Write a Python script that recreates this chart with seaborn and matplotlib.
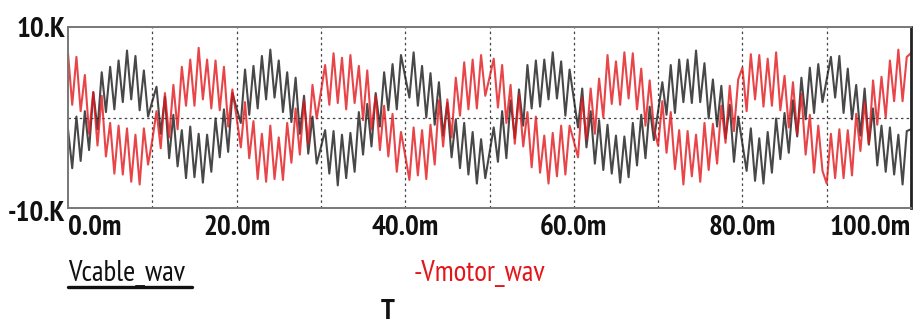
import numpy as np
import pandas as pd
import matplotlib
matplotlib.use("Agg")
import matplotlib.pyplot as plt
from matplotlib.lines import Line2D
import matplotlib.transforms as mtransforms
import seaborn as sns

# time axis in ms (sample step 0.5 ms)
t_ms = np.arange(0, 100.5, 0.5)

# Vcable_wav (black), kV
vcable = [
    -1.3, -5.6, 0.1, -4.8, 0.7, -3.6, 2.8, -1.3, 5.0, 0.6,
    5.6, 0.9, 6.3, 1.7, 7.4, 2.0, 6.8, 0.8, 5.2, 0.1,
    1.8, 3.4, -1.8, 2.3, -4.5, 0.3, -5.4, -1.4, -6.7, -1.0,
    -6.6, -1.8, -7.2, -1.9, -6.0, -0.1, -4.4, 0.9, -3.8, 2.7,
    1.0, -0.6, 5.3, 0.3, 5.7, 1.0, 6.8, 2.0, 7.5, 2.2,
    6.3, 0.6, 5.0, -0.5, 4.4, -1.8, 2.4, -4.0, 0.1, -5.1,
    -3.3, -1.4, -6.2, -1.5, -7.5, -1.9, -6.7, -1.7, -6.0, 0.6,
    -4.1, 1.5, -3.2, 2.7, -1.0, 5.0, 0.8, 5.9, 0.9, 6.9,
    4.5, 2.2, 7.2, 1.3, 5.7, 0.0, 4.9, -0.8, 3.9, -2.0,
    1.6, -4.4, -0.2, -5.6, -0.6, -6.3, -1.6, -7.3, -2.4, -6.7,
    -3.9, -1.1, -4.9, 0.7, -4.5, 1.9, -2.3, 3.1, -0.9, 5.8,
    1.0, 6.3, 1.2, 6.4, 2.0, 7.2, 2.1, 6.2, 0.2, 5.3,
    2.1, -1.1, 3.2, -3.3, 0.7, -5.1, -0.3, -5.8, -0.8, -6.2,
    -2.0, -7.2, -2.1, -6.6, -0.6, -5.3, 0.3, -4.5, 1.2, -2.5,
    0.7, 3.9, 0.3, 5.8, 0.5, 6.4, 1.7, 6.4, 1.6, 7.4,
    1.7, 6.0, -0.1, 4.2, -1.0, 3.5, -2.3, 1.4, -4.9, 0.1,
    -2.9, -5.9, -1.2, -7.0, -2.3, -7.3, -1.6, -6.1, -0.1, -4.6,
    0.5, -3.9, 1.9, -2.1, 4.4, -0.2, 5.5, 0.5, 5.9, 1.7,
    4.2, 6.7, 2.2, 6.8, 0.5, 5.4, -0.2, 3.6, -2.0, 3.2,
    -3.0, 1.0, -5.3, -0.9, -6.0, -1.1, -6.3, -1.9, -7.4, -1.5,
    -1.3,
]

# -Vmotor_wav (red), kV
vmotor_neg = [
    7.1, 1.4, 6.7, 0.7, 4.7, -1.8, 2.8, -3.1, 2.4, -4.3,
    -0.6, -6.2, -0.9, -6.3, -1.2, -7.1, -1.9, -7.4, -1.2, -5.2,
    -2.5, 0.7, -3.4, 2.7, -2.2, 3.6, -1.3, 5.6, 1.3, 6.4,
    1.3, 7.7, 2.0, 6.4, 1.0, 6.3, 0.8, 5.6, -1.0, 3.1,
    0.0, -3.3, 1.7, -4.5, -0.4, -6.8, -1.8, -7.1, -0.9, -6.8,
    -2.2, -6.9, -0.6, -5.0, 1.0, -4.1, 1.9, -3.0, 3.6, -0.1,
    2.8, 5.8, 1.4, 7.1, 1.6, 6.6, 0.9, 6.9, 1.6, 5.7,
    -0.3, 5.2, -1.3, 2.4, -3.6, 1.3, -4.3, 0.4, -6.0, -1.6,
    -4.2, -6.9, -1.1, -6.4, -1.4, -6.8, -0.8, -5.2, 1.9, -3.2,
    2.0, -2.2, 4.4, 0.2, 6.1, 0.9, 6.4, 1.0, 6.9, 2.4,
    4.4, 6.5, 1.1, 5.8, -0.6, 3.6, -2.9, 2.5, -3.2, 0.6,
    -5.5, 0.1, -6.1, -2.0, -7.3, -1.7, -6.5, -0.9, -6.3, -0.9,
    -2.6, -4.4, 2.2, -2.4, 3.2, -1.8, 4.3, 0.0, 6.9, 1.5,
    6.2, 1.4, 7.2, 2.1, 7.1, 0.9, 5.4, -0.9, 4.1, -1.2,
    -3.1, 1.8, -3.9, 0.6, -5.7, -1.4, -7.4, -1.5, -6.5, -1.9,
    -7.1, -0.6, -5.8, -0.7, -5.1, 1.3, -2.8, 3.5, -1.5, 4.2,
    5.5, 0.7, 7.0, 2.0, 6.9, 1.2, 6.5, 1.3, 7.2, 0.8,
    4.6, -1.1, 3.9, -1.9, 2.6, -4.1, 0.3, -6.1, -0.9, -5.9,
    -7.3, -1.8, -6.7, -1.3, -6.7, -1.4, -6.4, 0.4, -3.7, 1.7,
    -2.9, 4.1, -0.8, 4.5, 0.0, 6.3, 1.8, 7.5, 1.8, 6.7,
    7.1,
]

x_tick_pos = [0, 10, 20, 30, 40, 50, 60, 70, 80, 90, 100]
x_tick_labels = ["0.0m", "", "20.0m", "", "40.0m", "", "60.0m", "", "80.0m", "", "100.0m"]
y_tick_pos = [-10, 10]
y_tick_labels = ["-10.K", "10.K"]
series_names = ["Vcable_wav", "-Vmotor_wav"]
series_colors = ["#1a1a1a", "#e3161c"]

df = pd.DataFrame({"t": t_ms, "vcable": vcable, "vmotor": vmotor_neg})

sns.set_style("white")
plt.rcParams["font.family"] = ["PT Sans Narrow", "Roboto Condensed", "Liberation Sans", "DejaVu Sans"]

fig = plt.figure(figsize=(9.14, 3.26), dpi=100)
ax = fig.add_axes([68 / 914, 118 / 326, (911 - 68) / 914, (208 - 27) / 326])

sns.lineplot(data=df, x="t", y="vcable", ax=ax, color=series_colors[0],
             lw=1.5, estimator=None, alpha=0.8)
sns.lineplot(data=df, x="t", y="vmotor", ax=ax, color=series_colors[1],
             lw=1.5, estimator=None, alpha=0.8)

ax.set_xlim(0, 100)
ax.set_ylim(-10, 10)
ax.set_xlabel("")
ax.set_ylabel("")

# grid: dashed verticals every 10 ms and zero line
for xv in x_tick_pos[1:-1]:
    ax.axvline(xv, color="#444444", lw=0.9, ls=(0, (2, 2.5)), zorder=0.5)
ax.axhline(0, color="#444444", lw=0.9, ls=(0, (2, 2.5)), zorder=0.5)

ax.set_xticks(x_tick_pos)
ax.set_xticklabels(x_tick_labels, fontsize=21, fontweight="bold")
ax.set_yticks(y_tick_pos)
ax.set_yticklabels(y_tick_labels, fontsize=21, fontweight="bold")
ax.tick_params(axis="x", length=0, pad=5, colors="#111111")
ax.tick_params(axis="y", length=0, pad=2, colors="#111111")

xl = ax.get_xticklabels()
xl[0].set_ha("left")
xl[-1].set_ha("right")
yl = ax.get_yticklabels()
yl[0].set_transform(yl[0].get_transform() + mtransforms.ScaledTranslation(0, -3 / 100, fig.dpi_scale_trans))

for side in ["top", "left", "bottom"]:
    ax.spines[side].set_color("#777777")
    ax.spines[side].set_linewidth(1.4)
ax.spines["right"].set_color("#222222")
ax.spines["right"].set_linewidth(2.0)

# series labels below the plot
fig.text(68 / 914, 1 - 281 / 326, series_names[0], fontsize=21, color="#111111",
         ha="left", va="baseline")
fig.add_artist(Line2D([68 / 914, 192 / 914], [1 - 287 / 326, 1 - 287 / 326],
                      color="#111111", lw=2.4))
fig.text(414 / 914, 1 - 281 / 326, series_names[1], fontsize=21, color=series_colors[1],
         ha="left", va="baseline")
fig.text(388 / 914, 1 - 319 / 326, "T", fontsize=21, fontweight="bold", color="#111111",
         ha="center", va="baseline")

fig.savefig("out.png", dpi=100)
